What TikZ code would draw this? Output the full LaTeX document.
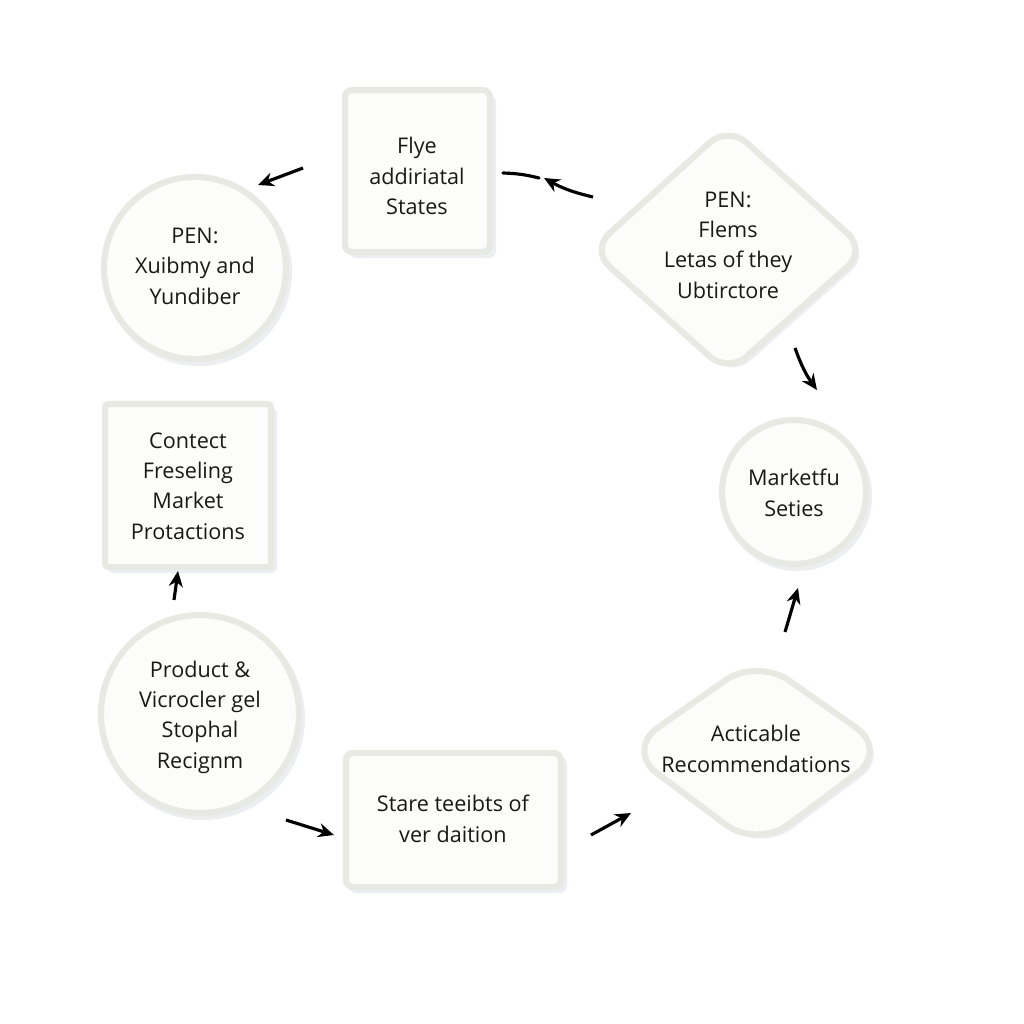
\documentclass[tikz,border=0pt]{standalone}
\usepackage{fontspec}
\setmainfont{Open Sans}
\usetikzlibrary{arrows.meta}
\definecolor{edgecol}{HTML}{E9E9E3}
\definecolor{fillcol}{HTML}{FCFCFA}
\definecolor{shadowcol}{HTML}{EDEEF1}
\tikzset{
  shape box/.style={draw=edgecol, line width=3.5pt, fill=fillcol},
  shade/.style={fill=shadowcol, draw=none},
  label text/.style={align=center, font=\fontsize{12.3}{17.3}\selectfont, text=black!90},
  flowarrow/.style={line width=1.8pt, -{Stealth[length=9pt,width=8pt]}, black},
}
\begin{document}
\begin{tikzpicture}[x=0.02cm,y=-0.02cm]
\useasboundingbox (0,0) rectangle (1024,1024);
\fill[white] (0,0) rectangle (1024,1024);

% shadows
\fill[shade, rounded corners=4pt] (349,95) rectangle (496,258);
\fill[shade] (198,272) circle (94);
\fill[shade, rounded corners=14pt] (732,131) -- (870,254) -- (732,377) -- (596,254) -- cycle;
\fill[shade, rounded corners=3pt] (108,408) rectangle (277,573);
\fill[shade] (797,496) circle (75);
\fill[shade] (203,718) circle (102);
\fill[shade, rounded corners=4pt] (349,757) rectangle (567,893);
\fill[shade, rounded corners=22pt] (761,664) -- (892,754) -- (761,852) -- (630,754) -- cycle;

% shapes
\draw[shape box, rounded corners=4pt] (345,90) rectangle (490,252);
\node[label text] (flye) at (417,176) {Flye\\addiriatal\\States};

\draw[shape box] (195,268) circle (91);
\node[label text] (penx) at (195,266) {PEN:\\Xuibmy and\\Yundiber};

\draw[shape box, rounded corners=14pt] (728,126) -- (866,250) -- (728,373) -- (591,250) -- cycle;
\node[label text] (penf) at (728,245) {PEN:\\Flems\\Letas of they\\Ubtirctore};

\draw[shape box, rounded corners=2pt] (105,404) rectangle (271,567);
\node[label text] (contect) at (188,486) {Contect\\Freseling\\Market\\Protactions};

\draw[shape box] (794,492) circle (72);
\node[label text] (marketfu) at (794,493) {Marketfu\\Seties};

\draw[shape box] (200,714) circle (99);
\node[label text] (product) at (200,717) {Product \&\\Vicrocler gel\\Stophal\\Recignm};

\draw[shape box, rounded corners=4pt] (346,753) rectangle (561,887);
\node[label text] (stare) at (453,819) {Stare teeibts of\\ver daition};

\draw[shape box, rounded corners=22pt] (757,658) -- (888,750) -- (757,848) -- (626,750) -- cycle;
\node[label text] (acti) at (756,749) {Acticable\\Recommendations};

% arrow end points
\coordinate (a1s) at (303,168); \coordinate (a1e) at (258,185);
\coordinate (a2s) at (593,197); \coordinate (a2e) at (544,178);
\coordinate (a2bs) at (503,173); \coordinate (a2be) at (539,178);
\coordinate (a3s) at (795,348); \coordinate (a3e) at (817,390);
\coordinate (a4s) at (785,632); \coordinate (a4e) at (798,588);
\coordinate (a5s) at (591,835); \coordinate (a5e) at (631,813);
\coordinate (a6s) at (286,820); \coordinate (a6e) at (334,835);
\coordinate (a7s) at (174,600); \coordinate (a7e) at (178,571);

\draw[flowarrow] (a1s) -- (a1e);
\draw[flowarrow] (a2s) to[bend left=8] (a2e);
\draw[line width=1.8pt, line cap=round] (a2bs) to[bend left=6] (a2be);
\draw[flowarrow] (a3s) to[bend right=8] (a3e);
\draw[flowarrow] (a4s) -- (a4e);
\draw[flowarrow] (a5s) -- (a5e);
\draw[flowarrow] (a6s) -- (a6e);
\draw[flowarrow] (a7s) -- (a7e);
\end{tikzpicture}
\end{document}
